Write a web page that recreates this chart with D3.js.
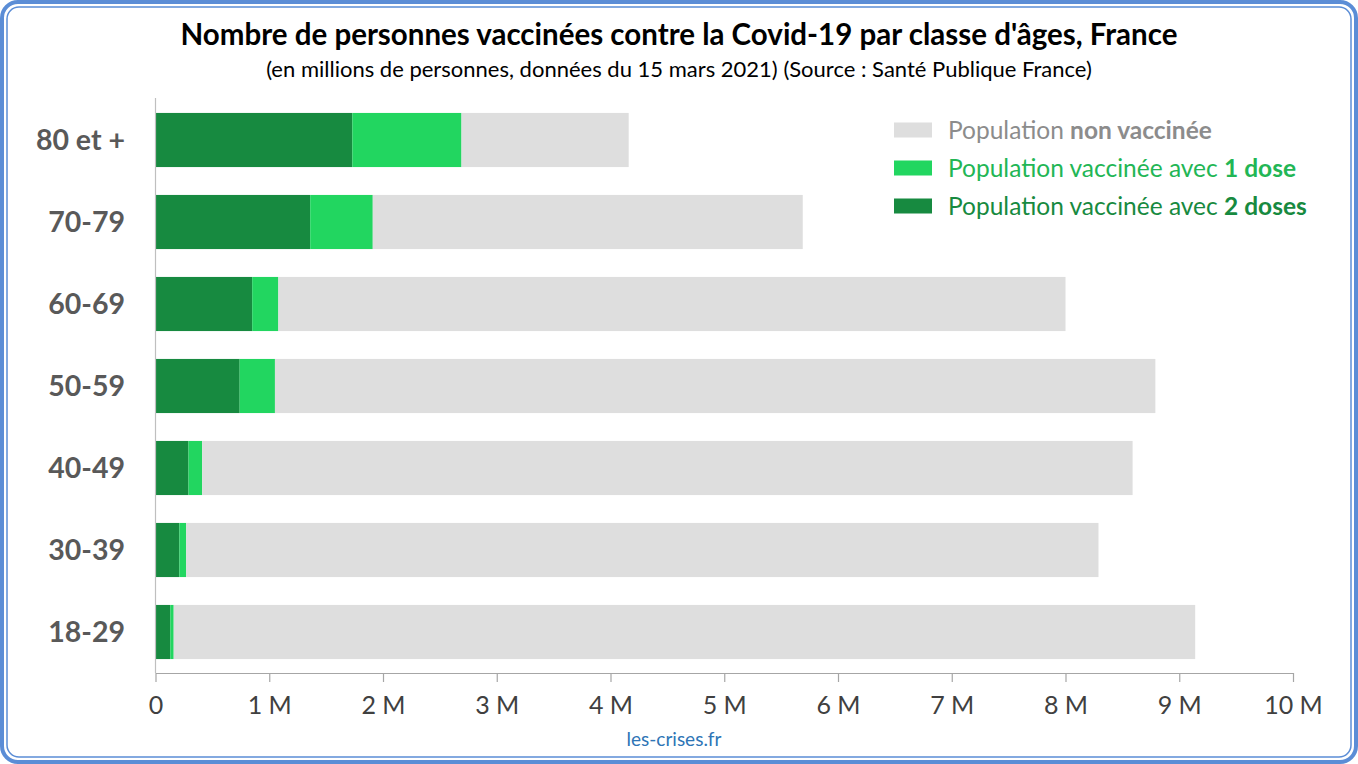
<!DOCTYPE html>
<html>
<head>
<meta charset="utf-8">
<script src="https://cdn.jsdelivr.net/npm/d3@7"></script>
<style>
  body { margin: 0; background: #fff; }
  svg { display: block; font-family: Lato, "Open Sans", sans-serif; }
</style>
</head>
<body>
<div id="chart"></div>
<script>
// classes d'âge, du haut vers le bas
var ages = ["80 et +", "70-79", "60-69", "50-59", "40-49", "30-39", "18-29"];
// en millions de personnes
var deuxDoses = [1.73, 1.36, 0.85, 0.74, 0.29, 0.21, 0.13];
var uneDose = [0.96, 0.55, 0.23, 0.31, 0.12, 0.06, 0.03];
var nonVaccinee = [1.47, 3.78, 6.92, 7.74, 8.18, 8.02, 8.98];
var xTicks = [0, 1, 2, 3, 4, 5, 6, 7, 8, 9, 10];

var W = 1358, H = 764;
var keys = ["deux", "une", "non"];
var colors = { deux: "#178A40", une: "#22D660", non: "#DEDEDE" };

var rows = ages.map(function (a, i) {
    return { age: a, deux: deuxDoses[i], une: uneDose[i], non: nonVaccinee[i] };
});

var svg = d3.select("#chart").append("svg")
    .attr("width", W).attr("height", H);

// cadre bleu
svg.append("rect")
    .attr("x", 2).attr("y", 2).attr("width", W - 4).attr("height", H - 4)
    .attr("rx", 16).attr("fill", "#fff")
    .attr("stroke", "#5B8DD6").attr("stroke-width", 4);
svg.append("rect")
    .attr("x", 7).attr("y", 7).attr("width", W - 14).attr("height", H - 14)
    .attr("rx", 12).attr("fill", "none")
    .attr("stroke", "#5B8DD6").attr("stroke-width", 1.5);

// titres
svg.append("text")
    .attr("x", 679).attr("y", 45)
    .attr("text-anchor", "middle")
    .attr("font-size", 29.5).attr("font-weight", "bold").attr("fill", "#000")
    .text("Nombre de personnes vaccinées contre la Covid-19 par classe d'âges, France");
svg.append("text")
    .attr("x", 679).attr("y", 77)
    .attr("text-anchor", "middle")
    .attr("font-size", 22).attr("fill", "#000")
    .text("(en millions de personnes, données du 15 mars 2021) (Source : Santé Publique France)");

var x = d3.scaleLinear().domain([0, 10]).range([155.5, 1293]);
var y = d3.scaleBand().domain(ages).range([99, 673])
    .paddingInner(0.34).paddingOuter(0.17);

var stack = d3.stack().keys(keys)(rows);

svg.append("g").selectAll("g")
    .data(stack)
    .enter()
    .append("g")
    .attr("fill", function (d) { return colors[d.key]; })
    .selectAll("rect")
    .data(function (d) { return d; })
    .enter()
    .append("rect")
    .attr("x", function (d) { return x(d[0]); })
    .attr("width", function (d) { return x(d[1]) - x(d[0]); })
    .attr("y", function (d) { return y(d.data.age); })
    .attr("height", y.bandwidth());

// axe vertical
svg.append("line")
    .attr("x1", 155.5).attr("x2", 155.5).attr("y1", 98).attr("y2", 673)
    .attr("stroke", "#BFBFBF").attr("stroke-width", 1.2);

// étiquettes des classes
svg.append("g").selectAll("text")
    .data(ages)
    .enter()
    .append("text")
    .attr("x", 125)
    .attr("y", function (d) { return y(d) + y.bandwidth() / 2; })
    .attr("dy", "0.35em")
    .attr("text-anchor", "end")
    .attr("font-size", 28.5).attr("font-weight", "bold").attr("fill", "#595959")
    .text(function (d) { return d; });

// axe horizontal
var xAxis = d3.axisBottom(x).tickValues(xTicks).tickSizeInner(9).tickSizeOuter(0)
    .tickFormat(function (d) { return d === 0 ? "0" : d + " M"; });
var gx = svg.append("g").attr("transform", "translate(0,673)").call(xAxis);
gx.select(".domain").attr("stroke", "#A6A6A6").attr("stroke-width", 1.2);
gx.selectAll(".tick line").attr("stroke", "#A6A6A6").attr("stroke-width", 1.2);
gx.selectAll(".tick text")
    .attr("y", 23).attr("dy", "0.71em")
    .attr("font-family", "Lato, sans-serif")
    .attr("font-size", 25).attr("fill", "#404040");

// légende
var legend = [
    { key: "non", color: "#DEDEDE", text: "#8C8C8C", a: "Population ", b: "non vaccinée" },
    { key: "une", color: "#22D660", text: "#22B655", a: "Population vaccinée avec ", b: "1 dose" },
    { key: "deux", color: "#178A40", text: "#178A40", a: "Population vaccinée avec ", b: "2 doses" }
];
var lg = svg.append("g").selectAll("g")
    .data(legend)
    .enter()
    .append("g")
    .attr("transform", function (d, i) { return "translate(894," + (130 + i * 38) + ")"; });
lg.append("rect")
    .attr("x", 0).attr("y", -7.5).attr("width", 38).attr("height", 15)
    .attr("fill", function (d) { return d.color; });
var lt = lg.append("text")
    .attr("x", 54).attr("dy", "0.35em")
    .attr("font-size", 24.5)
    .attr("fill", function (d) { return d.text; });
lt.append("tspan").text(function (d) { return d.a; });
lt.append("tspan").attr("font-weight", "bold").text(function (d) { return d.b; });

// source
svg.append("text")
    .attr("x", 674).attr("y", 746)
    .attr("text-anchor", "middle")
    .attr("font-size", 19).attr("fill", "#2E75B6")
    .text("les-crises.fr");
</script>
</body>
</html>
